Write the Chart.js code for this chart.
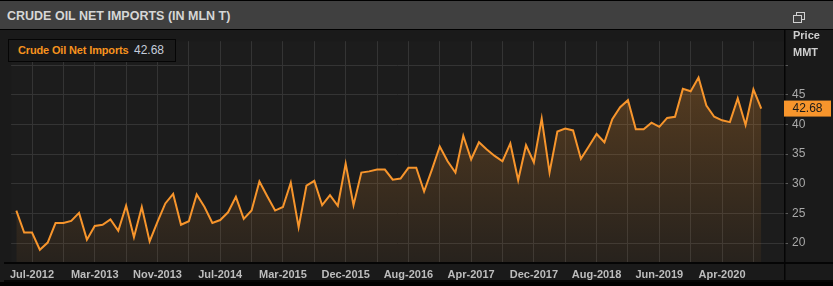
<!DOCTYPE html>
<html>
<head>
<meta charset="utf-8">
<script src="https://cdn.jsdelivr.net/npm/chart.js@4.4.0/dist/chart.umd.min.js"></script>
<style>
  body { margin: 0; background: #000; width: 833px; height: 286px; overflow: hidden; font-family: Arial, "Liberation Sans", sans-serif; }
  #header { position: absolute; left: 0; top: 1px; width: 833px; height: 28px; background: #404040; }
  #title { position: absolute; left: 7px; top: 8px; color: #d6d6d6; font: bold 12.5px Arial, "Liberation Sans", sans-serif; }
  .sq { position: absolute; width: 7px; height: 6px; border: 1.3px solid #d0d0d0; }
  #wrap { position: absolute; left: 0; top: 30px; width: 833px; height: 252px; background: #1a1a1a; }
  #chart { position: absolute; left: 4px; top: 0; }
  #legend { position: absolute; left: 8px; top: 39px; width: 166px; height: 21px; background: #1a1a1a; border: 1px solid #050505; line-height: 21px; white-space: nowrap; }
  #legend .name { position: absolute; left: 9px; color: #f7931e; font-weight: bold; font-size: 11px; letter-spacing: -0.15px; }
  #legend .val { position: absolute; left: 125px; color: #c5cddb; font-size: 12px; }
</style>
</head>
<body>
<div id="header">
  <div id="title">CRUDE OIL NET IMPORTS (IN MLN T)</div>
  <div class="sq" style="left:796px; top:11px; background:#404040;"></div>
  <div class="sq" style="left:793px; top:14px; background:#404040;"></div>
</div>
<div id="wrap"><canvas id="chart" width="829" height="252"></canvas></div>
<div id="legend"><span class="name">Crude Oil Net Imports</span><span class="val">42.68</span></div>
<script>
// monthly observations (a few months are not reported)
const months = [
  'May-2012','Jun-2012','Jul-2012','Aug-2012','Sep-2012','Oct-2012','Nov-2012','Dec-2012',
  'Jan-2013','Feb-2013','Mar-2013','Apr-2013','May-2013','Jun-2013','Jul-2013','Aug-2013','Sep-2013','Oct-2013','Nov-2013','Dec-2013',
  'Jan-2014','Feb-2014','Mar-2014','Apr-2014','May-2014','Jun-2014','Jul-2014','Aug-2014','Sep-2014','Oct-2014','Nov-2014','Dec-2014',
  'Jan-2015','Feb-2015','Mar-2015','Apr-2015','May-2015','Jun-2015','Jul-2015','Sep-2015','Oct-2015','Nov-2015','Dec-2015',
  'Jan-2016','Feb-2016','Mar-2016','Apr-2016','May-2016','Jun-2016','Jul-2016','Aug-2016','Sep-2016','Oct-2016','Nov-2016','Dec-2016',
  'Jan-2017','Feb-2017','Mar-2017','Apr-2017','May-2017','Jun-2017','Jul-2017','Aug-2017','Sep-2017','Oct-2017','Nov-2017','Dec-2017',
  'Jan-2018','Feb-2018','Mar-2018','Apr-2018','May-2018','Jun-2018','Jul-2018','Aug-2018','Sep-2018','Oct-2018','Nov-2018',
  'Feb-2019','Mar-2019','Apr-2019','May-2019','Jun-2019','Jul-2019','Aug-2019','Sep-2019','Oct-2019','Nov-2019','Dec-2019',
  'Mar-2020','Apr-2020','May-2020','Jun-2020','Jul-2020','Aug-2020','Sep-2020'
];
const netImports = [
  25.5, 21.8, 21.8, 18.9, 20.1, 23.4, 23.4, 23.75, 25.1, 20.6,
  22.9, 23.1, 24.0, 22.1, 26.3, 21.0, 26.1, 20.3, 23.6, 26.7,
  28.3, 23.1, 23.7, 28.2, 26.1, 23.4, 23.9, 25.2, 27.8, 24.1,
  25.5, 30.4, 27.9, 25.5, 26.1, 30.2, 22.7, 29.7, 30.5, 26.4,
  28.1, 26.3, 33.4, 26.4, 31.9, 32.1, 32.4, 32.4, 30.7, 30.9,
  32.7, 32.7, 28.7, 32.4, 36.3, 33.8, 31.9, 38.1, 34.1, 37.0,
  35.8, 34.7, 33.8, 36.8, 30.6, 36.5, 33.6, 41.0, 31.9, 38.8,
  39.3, 39.0, 34.2, 36.3, 38.4, 37.0, 40.9, 42.9, 44.1, 39.2,
  39.2, 40.3, 39.6, 41.1, 41.3, 46.0, 45.6, 47.9, 43.2, 41.3,
  40.7, 40.4, 44.4, 39.9, 45.9, 42.68
];
const xTickLabels = ['Jul-2012','Mar-2013','Nov-2013','Jul-2014','Mar-2015','Dec-2015','Aug-2016','Apr-2017','Dec-2017','Aug-2018','Jun-2019','Apr-2020'];
const yTicks = [20, 25, 30, 35, 40, 45, 50];
const yLabelled = [20, 25, 30, 35, 40, 45];

const ORANGE = '#f7952c';

// label positions, plus a grid line halfway between each pair
const labelIdx = xTickLabels.map(l => months.indexOf(l));
const gridIdx = [];
labelIdx.forEach(i => { gridIdx.push(i); if (i + 4 < months.length) gridIdx.push(i + 4); });

const panelPlugin = {
  id: 'panel',
  beforeDraw(chart) {
    const { ctx, chartArea: a } = chart;
    ctx.save();
    ctx.fillStyle = '#1c1c1c';
    ctx.fillRect(a.left, a.top, a.right - a.left, a.bottom - a.top);
    ctx.restore();
  },
  afterDraw(chart) {
    const { ctx, chartArea: a, scales } = chart;
    ctx.save();
    ctx.fillStyle = '#050505';
    ctx.fillRect(0, a.bottom, chart.width, 2);
    ctx.fillRect(a.right, 0, 1.5, chart.height);
    ctx.fillRect(0, chart.height - 2, chart.width, 2);
    // unit captions
    ctx.fillStyle = '#cfcfcf';
    ctx.font = 'bold 11px Arial';
    ctx.textBaseline = 'middle';
    ctx.fillText('Price', a.right + 9, 6);
    ctx.fillText('MMT', a.right + 9, 23);
    // last value tag
    const last = netImports[netImports.length - 1];
    const y = scales.y.getPixelForValue(last);
    ctx.fillStyle = ORANGE;
    ctx.fillRect(a.right, y - 8, 47, 16);
    ctx.fillStyle = '#1a1a1a';
    ctx.font = '12px Arial';
    ctx.textAlign = 'center';
    ctx.fillText(last.toFixed(2), a.right + 23.5, y + 0.5);
    ctx.restore();
  }
};

new Chart(document.getElementById('chart'), {
  type: 'line',
  data: {
    datasets: [{
      label: 'Crude Oil Net Imports',
      data: netImports.map((v, i) => ({ x: i, y: v })),
      borderColor: ORANGE,
      borderWidth: 2,
      pointRadius: 0,
      tension: 0,
      fill: 'start',
      backgroundColor: (c) => {
        const a = c.chart.chartArea;
        if (!a) return 'rgba(247,149,44,0.12)';
        const g = c.chart.ctx.createLinearGradient(0, a.top, 0, a.bottom);
        g.addColorStop(0, 'rgba(247,149,44,0.30)');
        g.addColorStop(1, 'rgba(247,149,44,0.05)');
        return g;
      }
    }]
  },
  options: {
    responsive: false,
    animation: false,
    devicePixelRatio: 1,
    layout: { padding: { top: 1, left: 0, right: 0, bottom: 0 } },
    plugins: { legend: { display: false }, tooltip: { enabled: false } },
    scales: {
      x: {
        type: 'linear',
        min: -0.67,
        max: 97.9,
        afterBuildTicks: (s) => { s.ticks = gridIdx.map(v => ({ value: v })); },
        afterFit: (s) => { s.height = 20; },
        grid: { color: '#343434', drawTicks: false },
        border: { display: false },
        ticks: {
          autoSkip: false,
          maxRotation: 0,
          padding: 6,
          color: '#bdbdbd',
          font: { size: 11, weight: 'bold', family: 'Arial' },
          callback: (v) => labelIdx.includes(v) ? months[v] : ''
        }
      },
      y: {
        position: 'right',
        min: 16.83,
        max: 54.03,
        afterBuildTicks: (s) => { s.ticks = yTicks.map(v => ({ value: v })); },
        afterFit: (s) => { s.width = 49; },
        grid: { color: '#343434', tickColor: '#5a5a5a', tickLength: 4 },
        border: { display: false },
        ticks: {
          padding: 4,
          color: '#a9a9a9',
          font: { size: 12, family: 'Arial' },
          callback: (v) => yLabelled.includes(v) ? String(v) : ''
        }
      }
    }
  },
  plugins: [panelPlugin]
});
</script>
</body>
</html>
